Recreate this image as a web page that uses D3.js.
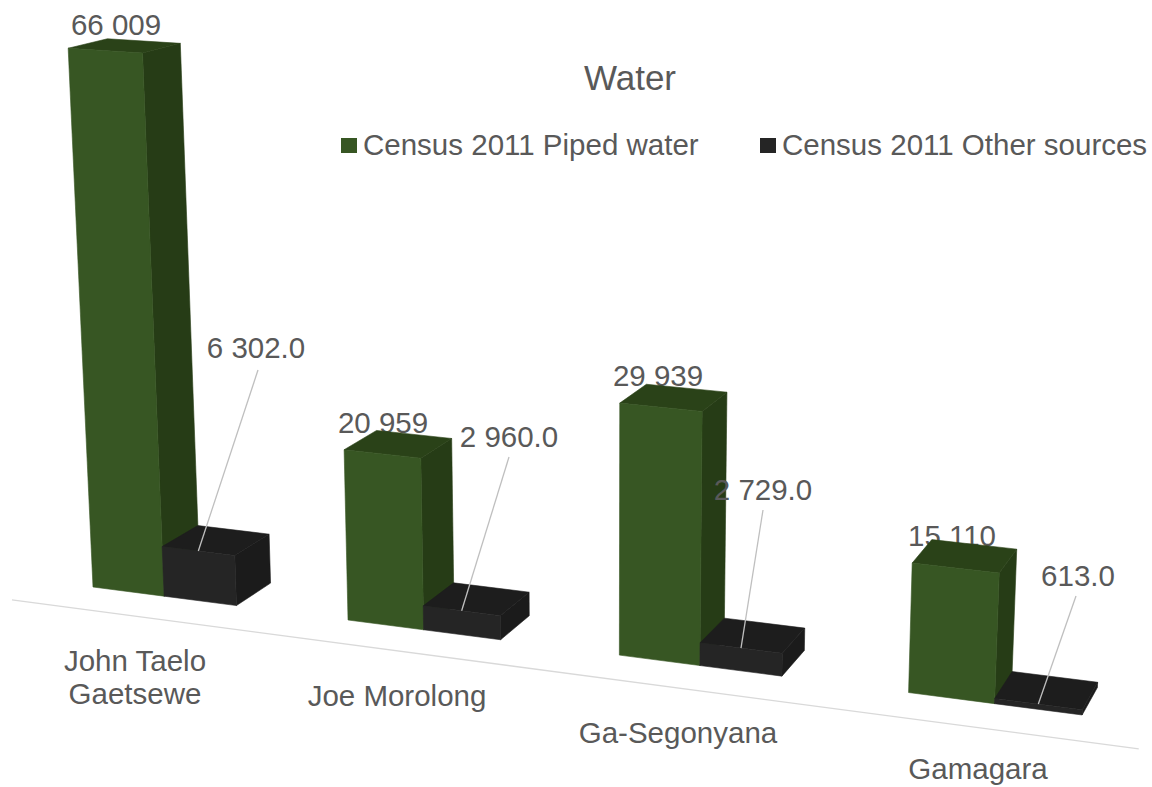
<!DOCTYPE html>
<meta charset="utf-8">
<script src="https://cdn.jsdelivr.net/npm/d3@7"></script>
<style>
  body { margin: 0; background: #fff; }
  text { font-family: "Liberation Sans", Arial, sans-serif; fill: #595959; }
</style>
<div id="my_dataviz"></div>
<script>

  // the values
  const categories = ["John Taelo Gaetsewe", "Joe Morolong", "Ga-Segonyana", "Gamagara"];
  const seriesNames = ["Census 2011 Piped water", "Census 2011 Other sources"];
  const piped = [66009, 20959, 29939, 15110];
  const other = [6302, 2960, 2729, 613];

  // label layout in page pixels, same order as categories
  const pipedLabelPos = [[116, 35], [383, 433], [658, 386], [952, 546]];
  const otherLabelPos = [[256, 358], [509, 447], [763, 500], [1078, 586]];
  const leaderEnd = [[258, 370], [509, 457], [763, 510], [1076, 596]];
  const categoryLabelPos = [[135, 671], [397, 706], [678, 743], [978, 779]];
  const categoryLines = [["John Taelo", "Gaetsewe"], ["Joe Morolong"], ["Ga-Segonyana"], ["Gamagara"]];

  const width = 1152, height = 787;
  const labelSize = 29.5;

  const svg = d3.select("#my_dataviz")
    .append("svg")
      .attr("width", width)
      .attr("height", height);

  // scales into the 3D world of the chart
  const x0 = d3.scalePoint().domain(categories).range([0, 3]);
  const x1 = d3.scaleBand().domain(seriesNames).range([0, 0.57]);
  const y = d3.scaleLinear().domain([0, d3.max(piped)]).range([0, 1]);
  const depth = 1;

  // camera: homogeneous projection of world (X, Y, Z) to the page
  function project(X, Y, Z) {
    const w = 1 - 0.03 * X - 0.0465 * Y + 0.024 * Z;
    return [
      (93 + 244.6 * X - 28 * Y + 40 * Z) / w,
      (587 + 14.4 * X - 541 * Y - 8.1 * Z) / w
    ];
  }

  const poly = d3.line();
  const number = d3.formatLocale({decimal: ".", thousands: " ", grouping: [3], currency: ["", ""]});
  const fmtPiped = number.format(",.0f");
  const fmtOther = number.format(",.1f");

  const colors = {
    [seriesNames[0]]: {front: "#375623", side: "#263c16", top: "#2a4218"},
    [seriesNames[1]]: {front: "#252525", side: "#1b1b1b", top: "#1d1d1d"}
  };

  // Title
  svg.append("text")
    .attr("x", 630).attr("y", 90)
    .attr("text-anchor", "middle")
    .attr("font-size", 35)
    .text("Water");

  // Legend
  const legend = svg.selectAll(".legend")
    .data(seriesNames)
    .join("g")
      .attr("class", "legend")
      .attr("transform", (d, i) => `translate(${[341, 760][i]},138)`);
  legend.append("rect")
    .attr("width", 16).attr("height", 15)
    .attr("fill", d => colors[d].front);
  legend.append("text")
    .attr("x", 22).attr("y", 17)
    .attr("font-size", labelSize)
    .text(d => d);

  // Category axis line
  svg.append("path")
    .attr("d", poly([project(-0.193, 0, -0.85), project(3.79, 0, -0.85)]))
    .attr("fill", "none")
    .attr("stroke", "#d9d9d9")
    .attr("stroke-width", 1.3);

  // Category labels
  categoryLines.forEach((lines, i) => {
    lines.forEach((line, j) => {
      svg.append("text")
        .attr("x", categoryLabelPos[i][0])
        .attr("y", categoryLabelPos[i][1] + j * 33)
        .attr("text-anchor", "middle")
        .attr("font-size", labelSize)
        .text(line);
    });
  });

  // Piped labels sit under the bars, the tops cover them a bit
  svg.selectAll(".piped-label")
    .data(piped)
    .join("text")
      .attr("class", "piped-label")
      .attr("x", (d, i) => pipedLabelPos[i][0])
      .attr("y", (d, i) => pipedLabelPos[i][1])
      .attr("text-anchor", "middle")
      .attr("font-size", labelSize)
      .text(d => fmtPiped(d));

  function drawBar(cat, name, value) {
    const l = x0(cat) + x1(name), r = l + x1.bandwidth(), t = y(value);
    const c = colors[name];
    const g = svg.append("g").attr("stroke-width", 0.6).attr("stroke-linejoin", "round");
    g.append("path")
      .attr("fill", c.side).attr("stroke", c.side)
      .attr("d", poly([project(r, 0, 0), project(r, 0, depth), project(r, t, depth), project(r, t, 0)]) + "Z");
    g.append("path")
      .attr("fill", c.top).attr("stroke", c.top)
      .attr("d", poly([project(l, t, 0), project(r, t, 0), project(r, t, depth), project(l, t, depth)]) + "Z");
    g.append("path")
      .attr("fill", c.front).attr("stroke", c.front)
      .attr("d", poly([project(l, 0, 0), project(r, 0, 0), project(r, t, 0), project(l, t, 0)]) + "Z");
  }

  categories.forEach((cat, i) => {
    drawBar(cat, seriesNames[0], piped[i]);
    drawBar(cat, seriesNames[1], other[i]);
  });

  // Leader lines and labels of the second series
  categories.forEach((cat, i) => {
    const start = project(x0(cat) + x1(seriesNames[1]) + x1.bandwidth() / 2, y(other[i]), 0);
    svg.append("path")
      .attr("d", poly([start, leaderEnd[i]]))
      .attr("fill", "none")
      .attr("stroke", "#bfbfbf")
      .attr("stroke-width", 1.3);
  });

  svg.selectAll(".other-label")
    .data(other)
    .join("text")
      .attr("class", "other-label")
      .attr("x", (d, i) => otherLabelPos[i][0])
      .attr("y", (d, i) => otherLabelPos[i][1])
      .attr("text-anchor", "middle")
      .attr("font-size", labelSize)
      .text(d => fmtOther(d));

</script>
